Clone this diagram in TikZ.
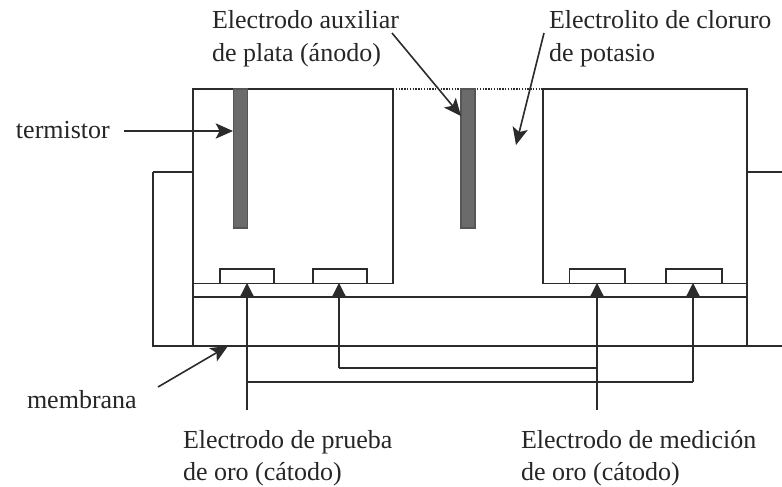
\documentclass[tikz,border=0pt]{standalone}
\usepackage{fontspec}
\setmainfont{Liberation Serif}
\usetikzlibrary{arrows.meta}
\definecolor{ink}{gray}{0.17}
\tikzset{
  wall/.style={draw=ink,line width=1.1pt,line join=miter},
  thin wall/.style={draw=ink,line width=0.9pt},
  electrode/.style={draw=ink!80,line width=0.9pt,fill=black!58},
  pointer/.style={draw=ink,line width=1.2pt,-{Stealth[length=13pt,width=11.5pt,inset=3pt]}},
  lead/.style={draw=ink,line width=1pt},
  leadarrow/.style={draw=ink,line width=1pt,-{Triangle[length=11pt,width=11pt]}},
  label/.style={inner sep=0pt,outer sep=0pt,anchor=north west,align=left,text=black!85,font=\fontsize{19.5}{24.6}\selectfont}
}
\begin{document}
\begin{tikzpicture}[x=0.75pt,y=-0.75pt]
\useasboundingbox (0,0) rectangle (782,486);
% named points
\coordinate (auxtail) at (392,33);
\coordinate (auxtip) at (461,116);
\coordinate (eltail) at (544,33);
\coordinate (eltip) at (516,145);
\coordinate (termtail) at (124,131);
\coordinate (termtip) at (233,131);
\coordinate (memtail) at (158,387);
\coordinate (memtip) at (228,346);
\coordinate (pa) at (247,283);
\coordinate (pb) at (339,283);
\coordinate (ma) at (597,283);
\coordinate (mb) at (693,283);
\coordinate (pend) at (247,410);
\coordinate (mend) at (597,410);
\coordinate (pbase) at (339,368);
\coordinate (mbase) at (597,368);
\coordinate (pcross) at (247,382);
\coordinate (mcorner) at (693,382);
% housing
\draw[wall] (393,89) -- (193,89) -- (193,346);
\draw[wall] (393,89) -- (393,283.5) -- (193,283.5);
\draw[wall] (543,89) -- (747,89) -- (747,346);
\draw[wall] (543,89) -- (543,283.5) -- (747,283.5);
\draw[draw=ink,line width=1.1pt,densely dotted] (393,89) -- (543,89);
\draw[wall] (193,297) -- (747,297);
\draw[wall] (153,172) -- (193,172);
\draw[wall] (153,172) -- (153,346) -- (782,346);
\draw[wall] (747,172) -- (782,172);
% electrodes
\draw[electrode] (233.5,89) rectangle (247.5,228);
\draw[electrode] (461,89) rectangle (475,228);
\draw[thin wall] (220,283.5) |- (274,269) -- (274,283.5);
\draw[thin wall] (313,283.5) |- (367,269) -- (367,283.5);
\draw[thin wall] (569.5,283.5) |- (625,269) -- (625,283.5);
\draw[thin wall] (666,283.5) |- (722,269) -- (722,283.5);
% leads
\draw[leadarrow] (pend) -- (pa);
\draw[leadarrow] (mend) -- (ma);
\draw[leadarrow] (pbase) -- (pb);
\draw[leadarrow] (mcorner) -- (mb);
\draw[lead] (pbase) -- (mbase);
\draw[lead] (pcross) -- (mcorner);
% pointers
\draw[pointer] (auxtail) -- (auxtip);
\draw[pointer] (eltail) -- (eltip);
\draw[pointer] (termtail) -- (termtip);
\draw[pointer] (memtail) -- (memtip);
% labels
\node[label] (aux) at (212,10.5) {Electrodo auxiliar\\de plata (ánodo)};
\node[label] (elec) at (549,10.5) {Electrolito de cloruro\\de potasio};
\node[label] (term) at (16,121) {termistor};
\node[label] (mem) at (27,390) {membrana};
\node[label] (prueba) at (183,430) {Electrodo de prueba\\de oro (cátodo)};
\node[label] (med) at (521,430) {Electrodo de medición\\de oro (cátodo)};
\end{tikzpicture}
\end{document}
